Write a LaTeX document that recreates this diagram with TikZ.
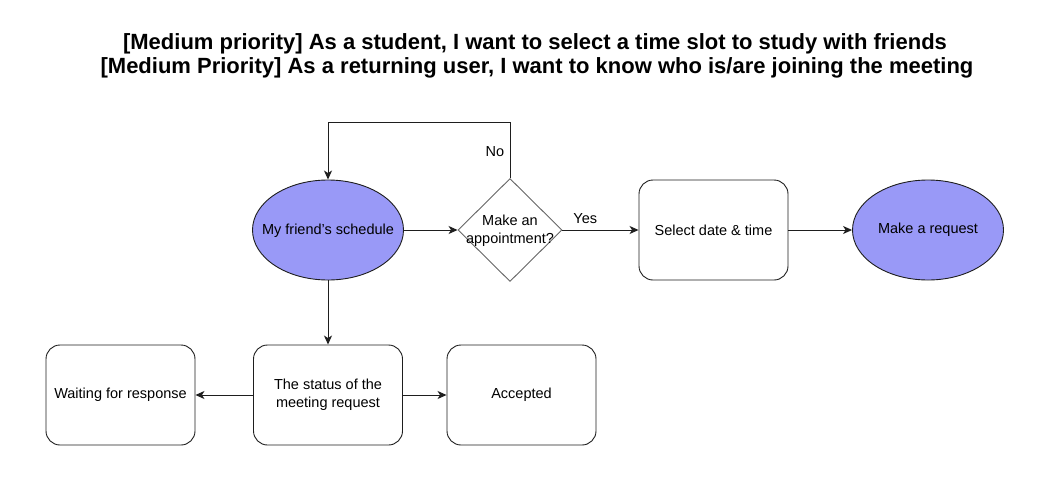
\documentclass[tikz,border=0pt]{standalone}
\usepackage{fontspec}
\setmainfont{Liberation Sans}
\usetikzlibrary{shapes.geometric,arrows.meta}
\definecolor{lav}{RGB}{153,153,247}
\definecolor{edge}{RGB}{30,30,30}
\begin{document}
\begin{tikzpicture}[x=1pt,y=-1pt,
  every node/.style={font=\fontsize{14.5}{18}\selectfont, align=center, inner sep=0pt},
  oval/.style={ellipse, draw=edge, fill=lav, line width=0.9pt, minimum width=151pt, minimum height=100pt},
  card/.style={rectangle, rounded corners=14pt, draw=edge, fill=white, line width=0.9pt, minimum width=149pt, minimum height=100pt},
  choice/.style={diamond, draw=black!60, fill=white, line width=0.9pt, minimum width=104pt, minimum height=103pt, aspect=1},
  flow/.style={draw=edge, line width=0.9pt, -{Stealth[length=9pt,width=8pt,inset=2.5pt]}},
  tag/.style={font=\fontsize{14.5}{18}\selectfont},
  head/.style={font=\fontsize{22}{24}\bfseries\selectfont, anchor=base}
]
\useasboundingbox (0,0) rectangle (1052,490);

% heading
\node[head] (title1) at (535,49)
  {[Medium priority] As a student, I want to select a time slot to study with friends};
\node[head] (title2) at (537,73)
  {[Medium Priority] As a returning user, I want to know who is/are joining the meeting};

% top row
\node[oval] (friend) at (328,230) {};
\node[tag] (friendtext) at (328,231) {My friend\char39 s schedule};
\node[choice] (ask) at (510,230) {};
\node[tag] (asktext) at (510,231) {Make an\\appointment?};
\node[card] (pick) at (713.5,230) {Select date \& time};
\node[oval] (req) at (928,230) {};
\node[tag] (reqtext) at (928,230) {Make a request};

% bottom row
\node[card] (status) at (328,395) {The status of the\\meeting request};
\node[card] (wait) at (120.5,395) {Waiting for response};
\node[card] (ok) at (521.5,395) {Accepted};

% connectors
\coordinate (loopR) at (510,122);
\coordinate (loopL) at (328,122);
\draw[flow] (friend.east) -- (ask.west);
\draw[flow] (ask.east) -- node[pos=0.3, above=6pt, tag] (yes) {Yes} (pick.west);
\draw[flow] (pick.east) -- (req.west);
\draw[flow] (ask.north) -- (loopR) -- (loopL) -- (friend.north);
\node[tag] (no) at (495,152) {No};
\draw[flow] (friend.south) -- (status.north);
\draw[flow] (status.west) -- (wait.east);
\draw[flow] (status.east) -- (ok.west);
\end{tikzpicture}
\end{document}
